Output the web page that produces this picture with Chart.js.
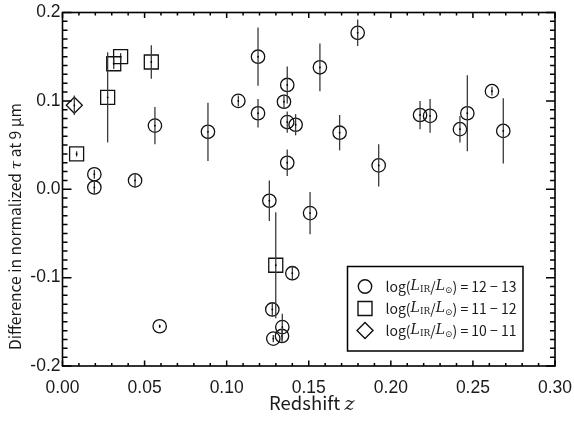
<!DOCTYPE html>
<html>
<head>
<meta charset="utf-8">
<script src="https://cdn.jsdelivr.net/npm/chart.js@4.4.1/dist/chart.umd.min.js"></script>
<style>
html, body { margin: 0; padding: 0; background: #fff; }
</style>
</head>
<body>
<canvas id="chart" width="574" height="424"></canvas>
<script>
// --- DATA ---
const circleZ    = [0.0194, 0.0194, 0.0442, 0.0563, 0.0592, 0.0886, 0.1071, 0.1191, 0.1191, 0.1260, 0.1278, 0.1284, 0.1337, 0.1339, 0.1349, 0.1369, 0.1369, 0.1369, 0.1400, 0.1420, 0.1508, 0.1568, 0.1688, 0.1798, 0.1926, 0.2178, 0.2239, 0.2421, 0.2466, 0.2616, 0.2685];
const circleDiff = [0.017, 0.002, 0.010, 0.072, -0.155, 0.065, 0.100, 0.150, 0.086, -0.013, -0.136, -0.169, -0.166, -0.156, 0.099, 0.118, 0.076, 0.030, -0.095, 0.073, -0.027, 0.138, 0.064, 0.177, 0.027, 0.084, 0.083, 0.068, 0.086, 0.111, 0.066];
const circleErr  = [0.005, 0.007, 0.008, 0.021, 0.002, 0.033, 0.006, 0.033, 0.016, 0.023, 0.008, 0.004, 0.008, 0.015, 0.008, 0.021, 0.012, 0.015, 0.008, 0.012, 0.024, 0.027, 0.020, 0.015, 0.024, 0.016, 0.019, 0.015, 0.043, 0.005, 0.037];

const squareZ    = [0.0086, 0.0275, 0.0312, 0.0354, 0.0541, 0.1299];
const squareDiff = [0.040, 0.104, 0.142, 0.150, 0.144, -0.086];
const squareErr  = [0.003, 0.051, 0.006, 0.004, 0.019, 0.060];

const diamondZ    = [0.0072];
const diamondDiff = [0.095];
const diamondErr  = [0.011];

const groupLabels = ['12 \u2212 13', '11 \u2212 12', '10 \u2212 11'];
const xTickStep = 0.05;
const yTickStep = 0.1;

// --- HELPERS ---
const SANS = '"Noto Sans CJK JP", "Noto Sans", sans-serif';
const SERIF = '"DejaVu Serif", "Liberation Serif", serif';
const TICK_FONT = { family: '"Liberation Sans", Arial, sans-serif', size: 17.5 };

function toPoints(xs, ys) {
    return xs.map((x, i) => ({ x: x, y: ys[i] }));
}

function makeSet(label, xs, ys, errs, style, radius) {
    return {
        label: label,
        data: toPoints(xs, ys),
        errors: errs,
        pointStyle: style,
        pointRadius: radius,
        pointHoverRadius: radius,
        pointBorderWidth: 1.3,
        borderColor: '#111',
        backgroundColor: 'rgba(0,0,0,0)',
        showLine: false
    };
}

// draw a list of text runs one after another, centred on (x, y) or starting at x
function drawRuns(ctx, runs, x, y, align) {
    ctx.textAlign = 'left';
    let total = 0;
    runs.forEach(r => { ctx.font = r.font; r.w = ctx.measureText(r.text).width; total += r.w; });
    let cx = align === 'left' ? x : x - total / 2;
    runs.forEach(r => {
        ctx.font = r.font;
        ctx.fillText(r.text, cx, y + (r.dy || 0));
        cx += r.w;
    });
}

function legendRuns(range) {
    return [
        { text: 'log(', font: '14px ' + SANS },
        { text: 'L', font: 'italic 14px ' + SERIF },
        { text: 'IR', font: '9px ' + SERIF, dy: 3 },
        { text: '/', font: '14px ' + SANS },
        { text: 'L', font: 'italic 14px ' + SERIF },
        { text: '\u2299', font: '9px ' + SERIF, dy: 4 },
        { text: ') = ' + range, font: '14px ' + SANS }
    ];
}

function drawMarker(ctx, style, x, y) {
    ctx.beginPath();
    if (style === 'circle') {
        ctx.arc(x, y, 6.7, 0, Math.PI * 2);
    } else if (style === 'rect') {
        ctx.rect(x - 7, y - 7, 14, 14);
    } else {
        ctx.moveTo(x, y - 8); ctx.lineTo(x + 8, y); ctx.lineTo(x, y + 8); ctx.lineTo(x - 8, y); ctx.closePath();
    }
    ctx.stroke();
}

// --- PLUGINS ---
const errorBars = {
    id: 'errorBars',
    afterDatasetsDraw(chart) {
        const ctx = chart.ctx;
        const xs = chart.scales.x, ys = chart.scales.y;
        ctx.save();
        chart.data.datasets.forEach(ds => {
            ds.data.forEach((p, i) => {
                const px = xs.getPixelForValue(p.x);
                const e = ds.errors[i];
                ctx.strokeStyle = '#3a3a3a';
                ctx.lineWidth = 1.3;
                ctx.beginPath();
                ctx.moveTo(px, ys.getPixelForValue(p.y + e));
                ctx.lineTo(px, ys.getPixelForValue(p.y - e));
                ctx.stroke();
                ctx.fillStyle = '#000';
                ctx.beginPath();
                ctx.arc(px, ys.getPixelForValue(p.y), 0.9, 0, Math.PI * 2);
                ctx.fill();
            });
        });
        ctx.restore();
    }
};

const frameAndText = {
    id: 'frameAndText',
    afterDraw(chart) {
        const ctx = chart.ctx;
        const a = chart.chartArea;
        const xs = chart.scales.x, ys = chart.scales.y;
        ctx.save();
        ctx.strokeStyle = '#000';
        ctx.lineWidth = 1.6;
        ctx.strokeRect(a.left, a.top, a.right - a.left, a.bottom - a.top);

        // inward ticks, minor every 0.01
        ctx.lineWidth = 1.5;
        ctx.beginPath();
        for (let i = 0; i <= 30; i++) {
            const px = xs.getPixelForValue(i / 100);
            const len = i % 5 === 0 ? 5.5 : 3;
            ctx.moveTo(px, a.bottom); ctx.lineTo(px, a.bottom - len);
            ctx.moveTo(px, a.top); ctx.lineTo(px, a.top + len);
        }
        for (let i = -20; i <= 20; i++) {
            const py = ys.getPixelForValue(i / 100);
            const len = i % 10 === 0 ? 9 : 5;
            ctx.moveTo(a.left, py); ctx.lineTo(a.left + len, py);
            ctx.moveTo(a.right, py); ctx.lineTo(a.right - len, py);
        }
        ctx.stroke();

        // axis titles
        ctx.fillStyle = '#1a1a1a';
        ctx.textBaseline = 'alphabetic';
        drawRuns(ctx, [
            { text: 'Redshift ', font: '18.5px ' + SANS },
            { text: 'z', font: 'italic 19px ' + SERIF }
        ], (a.left + a.right) / 2 + 3, 410, 'center');

        ctx.save();
        ctx.translate(21, a.bottom - 16);
        ctx.rotate(-Math.PI / 2);
        drawRuns(ctx, [
            { text: 'Difference in normalized ', font: '15.6px ' + SANS },
            { text: '\u03c4', font: 'italic 15.6px ' + SERIF },
            { text: ' at 9 \u03bcm', font: '15.6px ' + SANS }
        ], 0, 0, 'left');
        ctx.restore();

        // legend box
        const lx = 347.5, ly = 266.5, lw = 175.5, lh = 84.5;
        ctx.fillStyle = '#fff';
        ctx.fillRect(lx, ly, lw, lh);
        ctx.strokeStyle = '#000';
        ctx.lineWidth = 1.5;
        ctx.strokeRect(lx, ly, lw, lh);
        const styles = ['circle', 'rect', 'diamond'];
        ctx.lineWidth = 1.4;
        ctx.textBaseline = 'middle';
        ctx.fillStyle = '#1a1a1a';
        styles.forEach((s, i) => {
            const ry = ly + 20 + i * 22;
            ctx.strokeStyle = '#111';
            drawMarker(ctx, s, lx + 17.5, ry);
            drawRuns(ctx, legendRuns(groupLabels[i]), lx + 38, ry, 'left');
        });
        ctx.restore();
    }
};

// --- CHART ---
const chart = new Chart(document.getElementById('chart'), {
    type: 'scatter',
    data: {
        datasets: [
            makeSet('log(LIR/L\u2299) = ' + groupLabels[0], circleZ, circleDiff, circleErr, 'circle', 6.7),
            makeSet('log(LIR/L\u2299) = ' + groupLabels[1], squareZ, squareDiff, squareErr, 'rect', 9.9),
            makeSet('log(LIR/L\u2299) = ' + groupLabels[2], diamondZ, diamondDiff, diamondErr, 'rectRot', 8)
        ]
    },
    options: {
        responsive: false,
        animation: false,
        events: [],
        layout: { padding: { top: 12, right: 19, left: 0, bottom: 0 } },
        plugins: {
            legend: { display: false },
            tooltip: { enabled: false }
        },
        scales: {
            x: {
                type: 'linear',
                min: 0, max: 0.3,
                grid: { display: false, drawTicks: false },
                border: { display: false },
                afterFit: s => { s.height = 58; s.paddingRight = 0; s.paddingLeft = 0; },
                ticks: {
                    stepSize: xTickStep,
                    padding: 12,
                    maxRotation: 0,
                    minRotation: 0,
                    color: '#1a1a1a',
                    font: TICK_FONT,
                    callback: v => Number(v).toFixed(2)
                }
            },
            y: {
                type: 'linear',
                min: -0.2, max: 0.2,
                grid: { display: false, drawTicks: false },
                border: { display: false },
                afterFit: s => { s.width = 62.5; },
                ticks: {
                    stepSize: yTickStep,
                    padding: 2,
                    color: '#1a1a1a',
                    font: TICK_FONT,
                    callback: v => Number(v).toFixed(1)
                }
            }
        }
    },
    plugins: [errorBars, frameAndText]
});
</script>
</body>
</html>
